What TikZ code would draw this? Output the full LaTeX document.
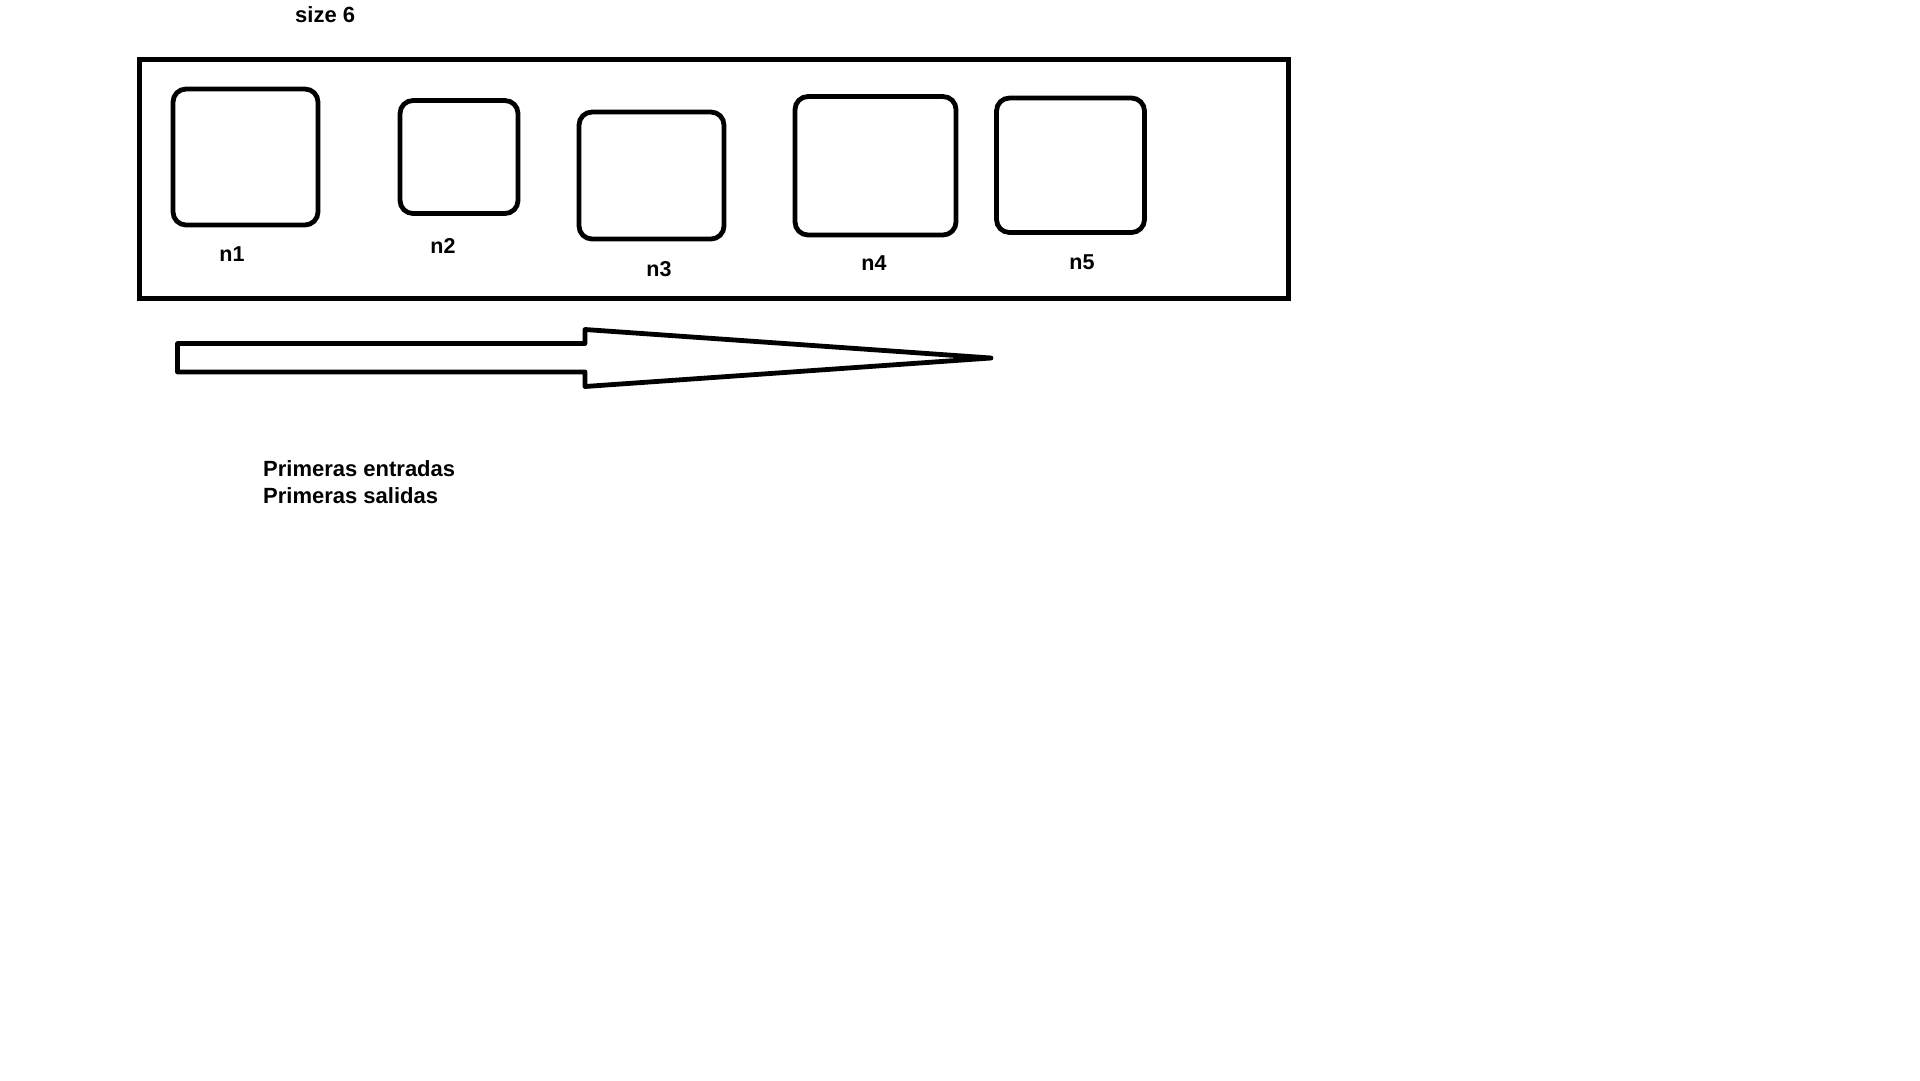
\documentclass[tikz,border=0pt]{standalone}
\usepackage{fontspec}
\setmainfont{Liberation Sans}
\begin{document}
\begin{tikzpicture}[x=1pt,y=-1pt,
  slot/.style={draw=black, line width=4.8pt, rounded corners=13pt, inner sep=0pt, minimum width=#1},
  lbl/.style={anchor=base, font=\fontsize{21.5}{25}\selectfont\bfseries, inner sep=0pt},
  txt/.style={anchor=base west, font=\fontsize{22}{26}\selectfont\bfseries, inner sep=0pt}]
\useasboundingbox[fill=white] (0,0) rectangle (1920,1080);
% container
\node[draw=black, line width=5pt, inner sep=0pt, minimum width=1149pt, minimum height=239pt] (queue) at (714,178.5) {};
% boxes
\node[slot=145pt, minimum height=136pt] (n1) at (245.5,157) {};
\node[slot=118pt, minimum height=113pt] (n2) at (459,157) {};
\node[slot=145pt, minimum height=127pt] (n3) at (651.5,175.5) {};
\node[slot=161pt, minimum height=138.5pt] (n4) at (875.5,165.75) {};
\node[slot=148pt, minimum height=134.5pt] (n5) at (1070.5,165.25) {};
% labels
\node[lbl] (l1) at (232,261) {n1};
\node[lbl] (l2) at (443,253) {n2};
\node[lbl] (l3) at (659,276) {n3};
\node[lbl] (l4) at (874,270) {n4};
\node[lbl] (l5) at (1082,269) {n5};
% title
\node[txt] (size) at (295,22) {size 6};
% arrow
\draw[line width=4.8pt, line join=round] (177.5,343.5) -- (585,343.5) -- (585,329.5) -- (991,358) -- (585,386.5) -- (585,372) -- (177.5,372) -- cycle;
% caption
\node[txt] (c1) at (263,476) {Primeras entradas};
\node[txt] (c2) at (263,503) {Primeras salidas};
\end{tikzpicture}
\end{document}
